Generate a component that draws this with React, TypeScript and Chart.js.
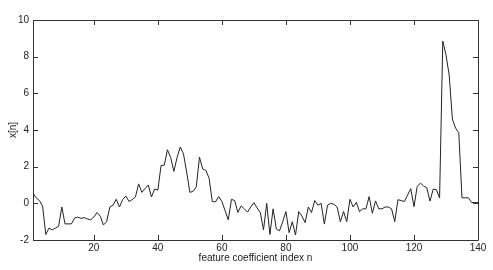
import React, { useEffect, useRef } from "react";
import { Chart, registerables } from "chart.js";

Chart.register(...registerables);

const values: number[] = [
  0.55, 0.3, 0.15, -0.15, -1.7, -1.35, -1.45, -1.35, -1.25, -0.2,
  -1.12, -1.12, -1.12, -0.8, -0.75, -0.82, -0.78, -0.85, -0.9, -0.75,
  -0.5, -0.7, -1.18, -1.0, -0.2, -0.1, 0.22, -0.2, 0.2, 0.4,
  0.1, 0.2, 0.35, 1.06, 0.6, 0.8, 1.0, 0.35, 0.78, 0.72,
  2.06, 2.08, 2.92, 2.5, 1.74, 2.5, 3.07, 2.7, 1.7, 0.6,
  0.65, 0.9, 2.52, 1.87, 1.8, 1.37, 0.1, 0.08, 0.37, 0.1,
  -0.4, -0.9, 0.22, 0.15, -0.5, -0.14, -0.3, -0.48, -0.2, 0.04,
  -0.25, -0.5, -1.45, 0.0, -1.7, -0.3, -1.4, -1.5, -1.0, -0.45,
  -1.6, -1.0, -1.73, -0.45, -0.7, -1.05, -0.2, -0.5, 0.15, -0.1,
  0.0, -1.13, -0.1, 0.0, -0.05, -0.2, -1.0, -0.45, -1.0, 0.22,
  -0.2, 0.05, -0.45, -0.3, -0.3, 0.37, -0.54, 0.13, -0.3, -0.3,
  -0.2, -0.2, -0.3, -1.0, 0.2, 0.15, 0.1, 0.45, 0.8, -0.18,
  0.91, 1.1, 0.95, 0.85, 0.12, 0.77, 0.75, 0.3, 8.85, 8.1,
  7.0, 4.6, 4.1, 3.85, 0.3, 0.3, 0.3, 0.05, 0.04, 0.04,
];
const indices: number[] = values.map((_, i) => i + 1);
const xTicks: number[] = [20, 40, 60, 80, 100, 120, 140];
const yTicks: number[] = [-2, 0, 2, 4, 6, 8, 10];
const xTitle = "feature coefficient index n";
const yTitle = "x[n]";

const FONT = "'Liberation Sans', Arial, sans-serif";

const boxPlugin = {
  id: "matlabBox",
  afterDraw(chart: any) {
    const { ctx, chartArea } = chart;
    const { left, right, top, bottom } = chartArea;
    const xs = chart.scales.x;
    const ys = chart.scales.y;
    const tl = 5;
    ctx.save();
    ctx.strokeStyle = "#333";
    ctx.lineWidth = 1;
    ctx.beginPath();
    ctx.rect(Math.round(left) + 0.5, Math.round(top) + 0.5, Math.round(right - left), Math.round(bottom - top));
    for (const v of xTicks) {
      const px = Math.round(xs.getPixelForValue(v)) + 0.5;
      ctx.moveTo(px, bottom);
      ctx.lineTo(px, bottom - tl);
      ctx.moveTo(px, top);
      ctx.lineTo(px, top + tl);
    }
    for (const v of yTicks) {
      const py = Math.round(ys.getPixelForValue(v)) + 0.5;
      ctx.moveTo(left, py);
      ctx.lineTo(left + tl, py);
      ctx.moveTo(right, py);
      ctx.lineTo(right - tl, py);
    }
    ctx.stroke();
    ctx.restore();
  },
};

export default function App() {
  const ref = useRef<HTMLCanvasElement | null>(null);
  useEffect(() => {
    if (!ref.current) return;
    const chart = new Chart(ref.current, {
      type: "line",
      data: {
        datasets: [
          {
            data: values.map((v, i) => ({ x: indices[i], y: v })),
            borderColor: "#222",
            borderWidth: 1,
            pointRadius: 0,
            tension: 0,
            fill: false,
          },
        ],
      },
      options: {
        responsive: false,
        animation: false,
        layout: { padding: { top: 20, right: 15, bottom: 0, left: 0 } },
        plugins: { legend: { display: false }, tooltip: { enabled: false } },
        scales: {
          x: {
            type: "linear",
            min: 1,
            max: 140,
            afterBuildTicks: (scale: any) => {
              scale.ticks = xTicks.map((v) => ({ value: v }));
            },
            afterFit: (scale: any) => {
              scale.height = 30;
            },
            grid: { display: false, drawTicks: false },
            border: { display: false },
            ticks: {
              padding: 2,
              color: "#222",
              font: { family: FONT, size: 10 },
              maxRotation: 0,
              autoSkip: false,
            },
            title: {
              display: true,
              text: xTitle,
              color: "#222",
              font: { family: FONT, size: 10 },
              padding: { top: 0, bottom: 6 },
            },
          },
          y: {
            type: "linear",
            min: -2,
            max: 10,
            afterBuildTicks: (scale: any) => {
              scale.ticks = yTicks.map((v) => ({ value: v }));
            },
            afterFit: (scale: any) => {
              scale.width = 33;
            },
            grid: { display: false, drawTicks: false },
            border: { display: false },
            ticks: {
              padding: 4,
              color: "#222",
              font: { family: FONT, size: 10 },
              autoSkip: false,
            },
            title: {
              display: true,
              text: yTitle,
              color: "#222",
              font: { family: FONT, size: 10 },
              padding: { top: 7, bottom: 0 },
            },
          },
        },
      },
      plugins: [boxPlugin],
    });
    return () => chart.destroy();
  }, []);
  return (
    <div style={{ position: "absolute", left: 0, top: 0, width: 493, height: 270, background: "#fff" }}>
      <canvas ref={ref} width={493} height={270} />
    </div>
  );
}
